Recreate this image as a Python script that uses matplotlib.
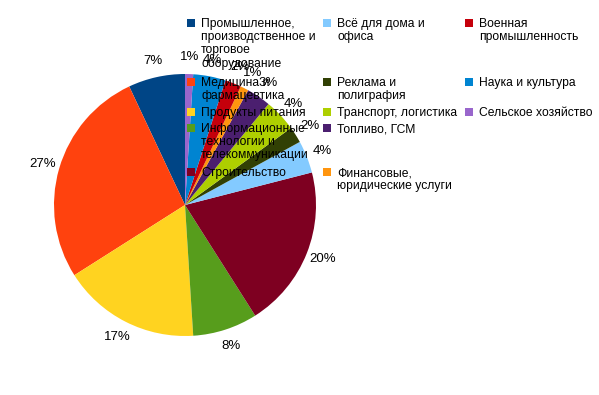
import matplotlib
matplotlib.use("Agg")
import matplotlib.pyplot as plt
from matplotlib.patches import Rectangle

plt.rcParams['font.family'] = ['Liberation Sans', 'DejaVu Sans']

# data, in series order (pie goes counterclockwise from the top)
categories = [
    "Промышленное,\nпроизводственное и\nторговое\nоборудование",
    "Медицина и\nфармацевтика",
    "Продукты питания",
    "Информационные\nтехнологии и\nтелекоммуникации",
    "Строительство",
    "Всё для дома и\nофиса",
    "Реклама и\nполиграфия",
    "Транспорт, логистика",
    "Топливо, ГСМ",
    "Финансовые,\nюридические услуги",
    "Военная\nпромышленность",
    "Наука и культура",
    "Сельское хозяйство",
]
shares = [7, 27, 17, 8, 20, 4, 2, 4, 3, 1, 2, 4, 1]
colors = ["#004586", "#ff420e", "#ffd320", "#579d1c", "#7e0021", "#83caff",
          "#314004", "#aecf00", "#4b1f6f", "#ff950e", "#c5000b", "#0084d1",
          "#9966cc"]

W, H = 599, 395
fig = plt.figure(figsize=(W / 100, H / 100), dpi=100)
fig.patch.set_facecolor("white")

cx, cy, r = 185, 205, 131
ax = fig.add_axes([(cx - r) / W, (H - cy - r) / H, 2 * r / W, 2 * r / H])
ax.pie(shares, colors=colors, startangle=90, counterclock=True,
       autopct="%d%%", pctdistance=1.13, radius=1,
       textprops=dict(fontsize=9.5, color="black"))
ax.set_xlim(-1, 1)
ax.set_ylim(-1, 1)
ax.set_aspect("equal")
ax.axis("off")

# legend: 3 columns, fixed row heights (text overflows like the original)
col_x = [187, 323, 465]
row_y = [23, 82, 112, 128, 172]
per_col = 5
for i, (lab, col) in enumerate(zip(categories, colors)):
    c, rw = divmod(i, per_col)
    mx, my = col_x[c], row_y[rw]
    fig.patches.append(Rectangle((mx / W, (H - my - 4) / H), 8 / W, 8 / H,
                                 transform=fig.transFigure, facecolor=col,
                                 edgecolor="none"))
    fig.text((mx + 14) / W, (H - my + 5) / H, lab, fontsize=8.7, va="top",
             ha="left", linespacing=1.12)

fig.savefig("out.png", dpi=100, facecolor="white")
